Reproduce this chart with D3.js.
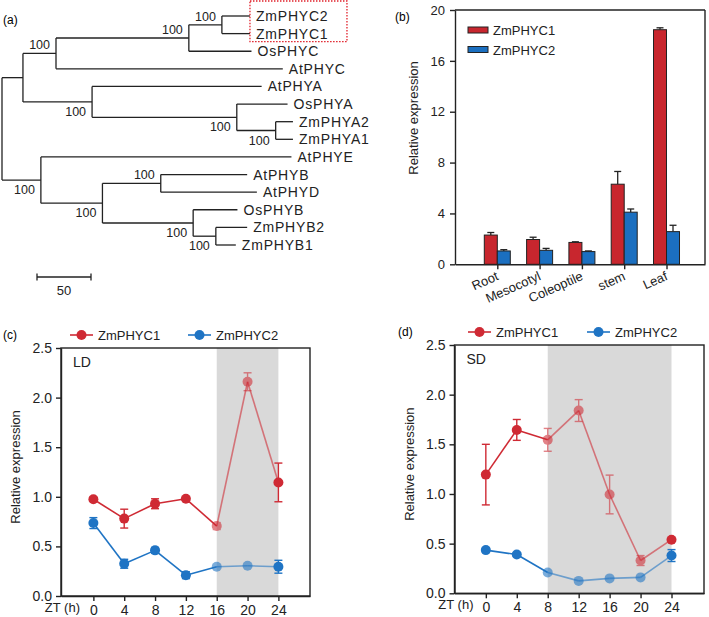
<!DOCTYPE html>
<html><head><meta charset="utf-8">
<script src="https://cdn.jsdelivr.net/npm/d3@7"></script>
<style>
body{margin:0;background:#fff;}
svg{display:block;font-family:"Liberation Sans",Arial,sans-serif;}
</style></head><body>
<svg id="fig" width="709" height="617"></svg>
<script>
// ---------------- data ----------------
// (a) phylogenetic tree, Newick with bootstrap support and branch lengths
const treeNewick = "(((((ZmPHYC2:26,ZmPHYC1:26)100:30.6,OsPHYC:58)100:123,AtPHYC:210)100:30.6,(AtPHYA:157,(OsPHYA:47,(ZmPHYA2:16,ZmPHYA1:16)100:36)100:134)100:64):19.4,(AtPHYE:232,((AtPHYB:80,AtPHYD:89)100:54,(OsPHYB:41,(ZmPHYB2:29,ZmPHYB1:18.5)100:21)100:84)100:57)100:36);";
const treeScaleBar = 50;
const highlighted = ["ZmPHYC2", "ZmPHYC1"];

// (b) tissue expression
const tissues = ["Root", "Mesocotyl", "Coleoptile", "stem", "Leaf"];
const seriesNames = ["ZmPHYC1", "ZmPHYC2"];
const tissueC1 = [2.3, 1.95, 1.72, 6.3, 18.45];
const tissueC1Err = [0.2, 0.18, 0.05, 1.0, 0.15];
const tissueC2 = [1.05, 1.1, 1.0, 4.1, 2.57];
const tissueC2Err = [0.1, 0.15, 0.05, 0.25, 0.5];
const tissueTicks = [0, 4, 8, 12, 16, 20];

// (c),(d) diurnal expression
const ztHours = [0, 4, 8, 12, 16, 20, 24];
const ldC1 = [0.975, 0.78, 0.93, 0.98, 0.705, 2.16, 1.145];
const ldC1Err = [0.02, 0.095, 0.05, 0.015, 0.035, 0.09, 0.195];
const ldC2 = [0.735, 0.325, 0.46, 0.21, 0.295, 0.305, 0.295];
const ldC2Err = [0.055, 0.045, 0.03, 0.035, 0.01, 0.01, 0.065];
const sdC1 = [1.195, 1.645, 1.545, 1.84, 0.995, 0.33, 0.54];
const sdC1Err = [0.305, 0.105, 0.115, 0.11, 0.195, 0.05, 0.01];
const sdC2 = [0.435, 0.39, 0.21, 0.125, 0.15, 0.16, 0.38];
const sdC2Err = [0.02, 0.01, 0.01, 0.005, 0.01, 0.01, 0.06];
const ldDark = [16, 24];
const sdDark = [8, 24];
const exprTicks = [0, 0.5, 1.0, 1.5, 2.0, 2.5];

// ---------------- styles ----------------
const RED = "#cf2a34", BLUE = "#1f74c4";
const BAR_RED = "#c8262e", BAR_BLUE = "#1b6fc0";
const SHADE = "#d9d9d9";

const svg = d3.select("#fig");

// ---------------- (a) tree ----------------
function parseNewick(s) {
  let i = 0;
  function node() {
    const n = {children: []};
    if (s[i] === "(") {
      i++;
      n.children.push(node());
      while (s[i] === ",") { i++; n.children.push(node()); }
      i++;
    }
    let label = "";
    while (i < s.length && !":,);".includes(s[i])) label += s[i++];
    n.len = 0;
    if (s[i] === ":") {
      i++; let num = "";
      while (i < s.length && !",);".includes(s[i])) num += s[i++];
      n.len = +num;
    }
    if (n.children.length) n.support = label; else { n.name = label; delete n.children; }
    return n;
  }
  return node();
}
(function drawTree() {
  const g = svg.append("g");
  const root = d3.hierarchy(parseNewick(treeNewick));
  root.eachBefore(d => d.dist = (d.parent ? d.parent.dist : 0) + d.data.len);
  const xT = d3.scaleLinear().domain([0, 250]).range([2, 272]);
  const leaves = root.leaves();
  const yT = d3.scalePoint().domain(leaves.map(d => d.data.name)).range([16, 245]);
  root.eachAfter(d => {
    d.py = d.children ? (d.children[0].py + d.children[d.children.length - 1].py) / 2 : yT(d.data.name);
    d.px = xT(d.dist);
  });
  const line = (x1, y1, x2, y2) => g.append("line").attr("x1", x1).attr("y1", y1).attr("x2", x2).attr("y2", y2)
    .attr("stroke", "#222").attr("stroke-width", 1.3);
  root.each(d => {
    if (d.parent) line(d.parent.px, d.py, d.px, d.py);
    if (d.children) line(d.px, d.children[0].py, d.px, d.children[d.children.length - 1].py);
  });
  root.each(d => {
    if (!d.children) {
      g.append("text").attr("x", d.px + 6).attr("y", d.py + 5).attr("font-size", 14)
        .attr("letter-spacing", 0.8).attr("fill", "#222").text(d.data.name);
    } else if (d.data.support) {
      const upper = d.parent && d.parent.children[0] === d;
      g.append("text").attr("x", d.px - 6).attr("y", upper ? d.py - 4 : d.py + 14)
        .attr("text-anchor", "end").attr("font-size", 12.5).attr("fill", "#222").text(d.data.support);
    }
  });
  // highlight box
  const hl = leaves.filter(d => highlighted.includes(d.data.name));
  const hx = d3.min(hl, d => d.px);
  g.append("rect").attr("x", hx).attr("y", d3.min(hl, d => d.py) - 15)
    .attr("width", 97).attr("height", d3.max(hl, d => d.py) - d3.min(hl, d => d.py) + 23)
    .attr("fill", "none").attr("stroke", "#e0202a").attr("stroke-width", 1.3).attr("stroke-dasharray", "1.5,1.5");
  // scale bar
  const sb0 = 37, sb1 = sb0 + (xT(treeScaleBar) - xT(0));
  line(sb0, 277, sb1, 277);
  line(sb0, 273.5, sb0, 280.5);
  line(sb1, 273.5, sb1, 280.5);
  g.append("text").attr("x", (sb0 + sb1) / 2).attr("y", 295).attr("text-anchor", "middle")
    .attr("font-size", 13).attr("fill", "#222").text(treeScaleBar);
  svg.append("text").attr("x", 3).attr("y", 24).attr("font-size", 12).text("(a)");
})();

// ---------------- (b) bars ----------------
(function drawBars() {
  const g = svg.append("g");
  const L = 455, R = 705, T = 10, B = 264.3;
  const x = d3.scaleLinear().domain([0, 5.91]).range([L, R]);
  const y = d3.scaleLinear().domain([0, 20]).range([B, T]);
  const bw = 13;
  const ax = g.append("g").attr("transform", `translate(${L},0)`)
    .call(d3.axisLeft(y).tickValues(tissueTicks).tickSize(5).tickSizeOuter(0).tickPadding(5));
  ax.selectAll("text").attr("font-size", 13).attr("fill", "#222").attr("font-family", "Liberation Sans, Arial, sans-serif");
  ax.selectAll("line,path").attr("stroke", "#222").attr("stroke-width", 1.4);
  const bx = g.append("g").attr("transform", `translate(0,${B})`)
    .call(d3.axisBottom(x).tickValues(tissues.map((t, i) => i + 1)).tickSize(5).tickSizeOuter(0).tickFormat(""));
  bx.selectAll("line,path").attr("stroke", "#222").attr("stroke-width", 1.4);
  g.append("line").attr("x1", L).attr("x2", R).attr("y1", T).attr("y2", T).attr("stroke", "#222").attr("stroke-width", 1.4);
  g.append("line").attr("x1", R).attr("x2", R).attr("y1", T).attr("y2", B).attr("stroke", "#222").attr("stroke-width", 1.4);
  const series = [
    {vals: tissueC1, err: tissueC1Err, color: BAR_RED, off: -bw},
    {vals: tissueC2, err: tissueC2Err, color: BAR_BLUE, off: 0}
  ];
  series.forEach(s => {
    s.vals.forEach((v, i) => {
      const cx = x(i + 1) + s.off;
      g.append("line").attr("x1", cx + bw / 2).attr("x2", cx + bw / 2).attr("y1", y(v)).attr("y2", y(v + s.err[i]))
        .attr("stroke", "#222").attr("stroke-width", 1.3);
      g.append("line").attr("x1", cx + bw / 2 - 3.5).attr("x2", cx + bw / 2 + 3.5).attr("y1", y(v + s.err[i])).attr("y2", y(v + s.err[i]))
        .attr("stroke", "#222").attr("stroke-width", 1.3);
      g.append("rect").attr("x", cx).attr("y", y(v)).attr("width", bw).attr("height", y(0) - y(v))
        .attr("fill", s.color).attr("stroke", "#222").attr("stroke-width", 1);
    });
  });
  tissues.forEach((t, i) => {
    g.append("text").attr("transform", `translate(${x(i + 1) + 2},${B + 15}) rotate(-24)`)
      .attr("text-anchor", "end").attr("font-size", 13).attr("fill", "#222").text(t);
  });
  g.append("text").attr("transform", `translate(${L - 37},118) rotate(-90)`).attr("text-anchor", "middle")
    .attr("font-size", 13).attr("fill", "#222").text("Relative expression");
  [BAR_RED, BAR_BLUE].forEach((c, k) => {
    g.append("rect").attr("x", 468).attr("y", 27 + k * 19.5).attr("width", 20).attr("height", 6)
      .attr("fill", c).attr("stroke", "#222").attr("stroke-width", 1);
    g.append("text").attr("x", 493).attr("y", 35 + k * 19.5).attr("font-size", 13).attr("fill", "#222").text(seriesNames[k]);
  });
  svg.append("text").attr("x", 395).attr("y", 21).attr("font-size", 12).text("(b)");
})();

// ---------------- (c),(d) diurnal ----------------
function drawDiurnal(o) {
  const g = svg.append("g");
  const x = d3.scaleLinear().domain(o.xDom).range([o.L, o.R]);
  const y = d3.scaleLinear().domain([0, 2.5]).range([o.B, o.T]);
  g.append("rect").attr("x", x(o.dark[0])).attr("y", o.T).attr("width", x(o.dark[1]) - x(o.dark[0]))
    .attr("height", o.B - o.T).attr("fill", SHADE);
  const inDark = t => t >= o.dark[0] && t < o.dark[1];
  const FADE = 0.58;
  [{v: o.c2, e: o.c2e, c: BLUE}, {v: o.c1, e: o.c1e, c: RED}].forEach(s => {
    for (let i = 0; i < ztHours.length - 1; i++) {
      const t0 = ztHours[i], t1 = ztHours[i + 1];
      const dark = t0 >= o.dark[0] && t1 <= o.dark[1];
      g.append("line").attr("x1", x(t0)).attr("y1", y(s.v[i])).attr("x2", x(t1)).attr("y2", y(s.v[i + 1]))
        .attr("stroke", s.c).attr("stroke-width", 1.6).attr("opacity", dark ? FADE : 1);
    }
    ztHours.forEach((t, i) => {
      const gg = g.append("g").attr("opacity", inDark(t) ? FADE : 1);
      const lo = y(s.v[i] - s.e[i]), hi = y(s.v[i] + s.e[i]), cx = x(t);
      gg.append("line").attr("x1", cx).attr("x2", cx).attr("y1", lo).attr("y2", hi).attr("stroke", s.c).attr("stroke-width", 1.4);
      [lo, hi].forEach(yy => gg.append("line").attr("x1", cx - 4).attr("x2", cx + 4).attr("y1", yy).attr("y2", yy)
        .attr("stroke", s.c).attr("stroke-width", 1.4));
      gg.append("circle").attr("cx", cx).attr("cy", y(s.v[i])).attr("r", 5).attr("fill", s.c);
    });
  });
  // frame
  g.append("rect").attr("x", o.L).attr("y", o.T).attr("width", o.R - o.L).attr("height", o.B - o.T)
    .attr("fill", "none").attr("stroke", "#222").attr("stroke-width", 1.4);
  const ay = g.append("g").attr("transform", `translate(${o.L},0)`)
    .call(d3.axisLeft(y).tickValues(exprTicks).tickFormat(d3.format(".1f")).tickSize(5).tickSizeOuter(0).tickPadding(4));
  ay.selectAll("text").attr("font-size", 14).attr("fill", "#222").attr("font-family", "Liberation Sans, Arial, sans-serif");
  ay.selectAll("line,path").attr("stroke", "#222").attr("stroke-width", 1.4);
  const axb = g.append("g").attr("transform", `translate(0,${o.B})`)
    .call(d3.axisBottom(x).tickValues(ztHours).tickSize(5).tickSizeOuter(0).tickPadding(4));
  axb.selectAll("text").attr("font-size", 14).attr("fill", "#222").attr("font-family", "Liberation Sans, Arial, sans-serif");
  axb.selectAll("line,path").attr("stroke", "#222").attr("stroke-width", 1.4);
  g.append("text").attr("x", o.L + 19).attr("y", o.B + 16).attr("text-anchor", "end").attr("font-size", 13)
    .attr("fill", "#222").text("ZT (h)");
  g.append("text").attr("transform", `translate(${o.L - 41},${(o.T + o.B) / 2 - 5}) rotate(-90)`)
    .attr("text-anchor", "middle").attr("font-size", 13).attr("fill", "#222").text("Relative expression");
  g.append("text").attr("x", o.L + 12).attr("y", o.T + 19).attr("font-size", 14).attr("fill", "#222").text(o.tag);
  // legend
  [{c: RED, x0: o.legX[0]}, {c: BLUE, x0: o.legX[1]}].forEach((l, k) => {
    g.append("line").attr("x1", l.x0).attr("x2", l.x0 + 23).attr("y1", o.T - 13).attr("y2", o.T - 13)
      .attr("stroke", l.c).attr("stroke-width", 1.6);
    g.append("circle").attr("cx", l.x0 + 11.5).attr("cy", o.T - 13).attr("r", 5).attr("fill", l.c);
    g.append("text").attr("x", l.x0 + 28).attr("y", o.T - 8).attr("font-size", 13).attr("fill", "#222").text(seriesNames[k]);
  });
  svg.append("text").attr("x", o.panelX).attr("y", o.T - 9).attr("font-size", 12).text(o.panel);
}
drawDiurnal({L: 61, R: 310, T: 348, B: 596, xDom: [-4.2, 28.1], dark: ldDark,
  c1: ldC1, c1e: ldC1Err, c2: ldC2, c2e: ldC2Err, tag: "LD", legX: [70, 188], panel: "(c)", panelX: 3});
drawDiurnal({L: 454.5, R: 704, T: 345, B: 593.3, xDom: [-4.05, 28.2], dark: sdDark,
  c1: sdC1, c1e: sdC1Err, c2: sdC2, c2e: sdC2Err, tag: "SD", legX: [468, 587], panel: "(d)", panelX: 398});
</script>
</body></html>
